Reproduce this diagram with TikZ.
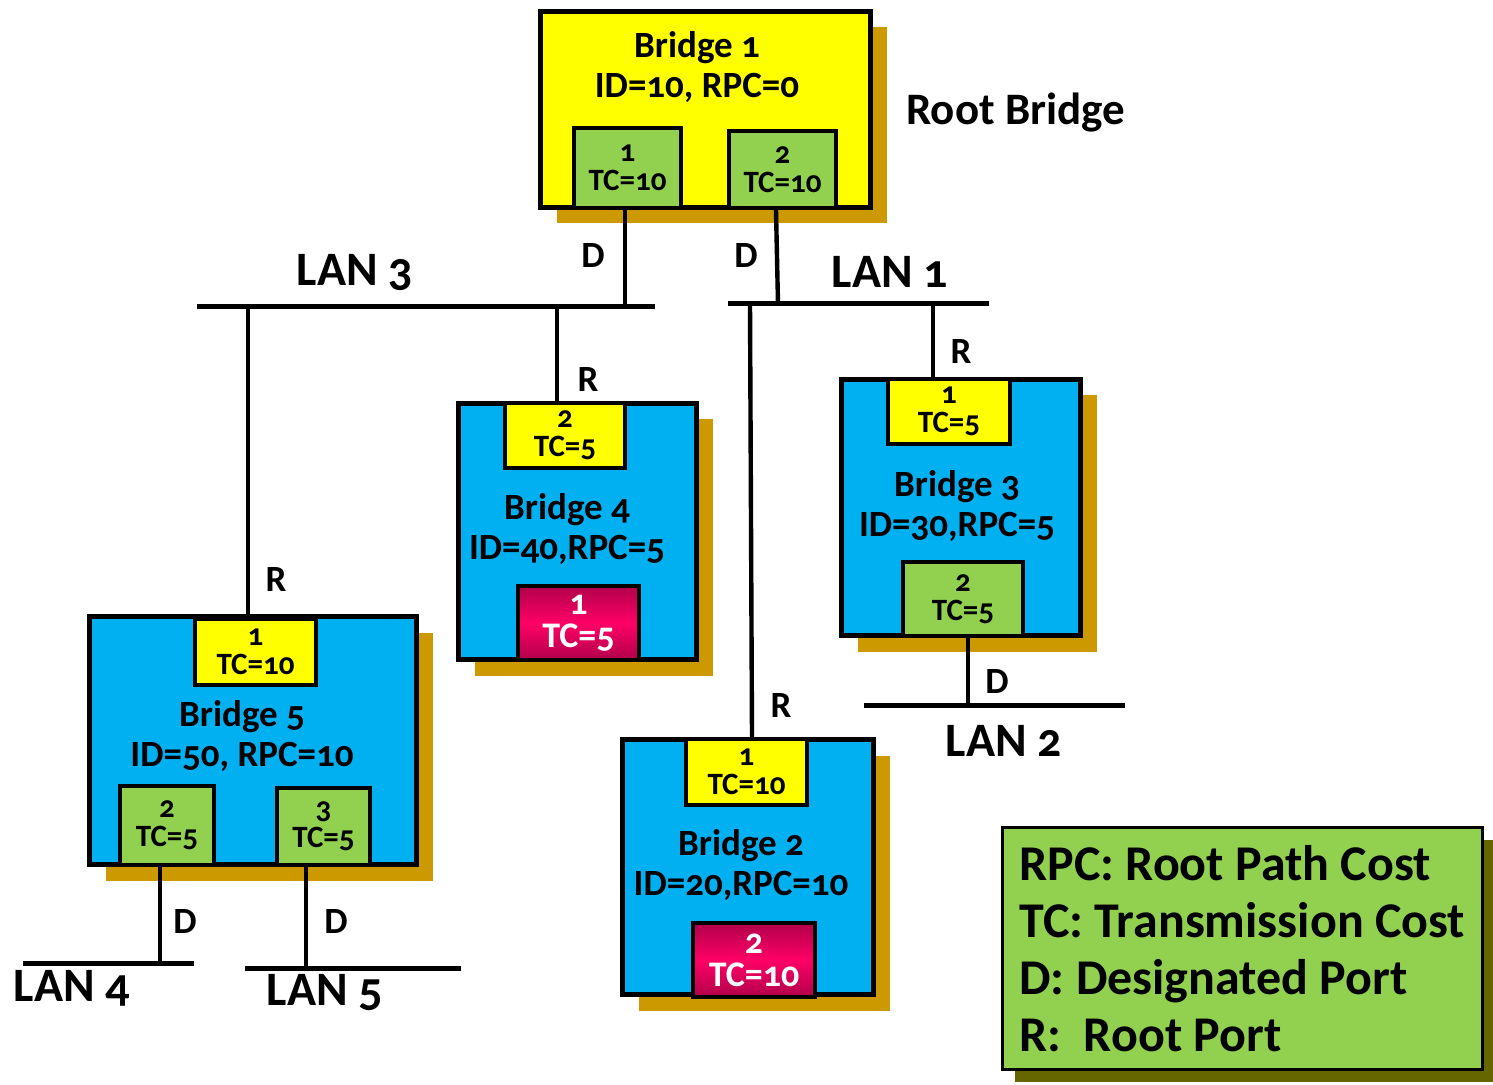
\documentclass[tikz,border=0pt]{standalone}
\usepackage{fontspec}
\setmainfont{Carlito}[Numbers=OldStyle]
\usetikzlibrary{shadows}
\definecolor{byel}{HTML}{FFFF00}
\definecolor{bgreen}{HTML}{92D050}
\definecolor{bblue}{HTML}{00B0F0}
\definecolor{bgold}{HTML}{CC9900}
\definecolor{bolive}{HTML}{666600}
\definecolor{crimD}{HTML}{B0004A}
\definecolor{crimL}{HTML}{FF0066}
\begin{document}
\begin{tikzpicture}[x=0.5pt,y=-0.5pt,
 bridgebox/.style={draw, line width=2.5pt, fill=bblue, rectangle, inner sep=0pt,
   general shadow={fill=bgold, shadow xshift=8pt, shadow yshift=-8pt}},
 portbox/.style={draw, line width=2.2pt, rectangle, inner sep=0pt, align=center,
   font=\bfseries\fontsize{15.5}{14.5}\selectfont},
 yport/.style={portbox, fill=byel},
 gport/.style={portbox, fill=bgreen},
 rport/.style={portbox, top color=crimD, bottom color=crimD, middle color=crimL,
   text=white, font=\bfseries\fontsize{18}{16.5}\selectfont},
 btext/.style={align=center, inner sep=0pt, font=\bfseries\fontsize{18.5}{20}\selectfont},
 lbl/.style={inner sep=0pt, font=\bfseries\fontsize{18.5}{18.5}\selectfont},
 lanlbl/.style={inner sep=0pt, font=\bfseries\fontsize{24}{24}\selectfont},
 wire/.style={line width=2.2pt},
 lan/.style={line width=2.5pt},
]
\useasboundingbox (0,0) rectangle (1493,1085);

% ---- Bridge 1 (root)
\node[bridgebox, fill=byel, minimum width=165pt, minimum height=98pt] (b1) at (705.5,109.5) {};
\node[btext] (b1t) at (697,67.5) {Bridge 1\\ID=10, RPC=0};
\node[gport, minimum width=53.5pt, minimum height=40pt] (b1p1) at (627.5,168) {1\\TC=10};
\node[gport, minimum width=53.5pt, minimum height=38.5pt] (b1p2) at (782.5,169.5) {2\\TC=10};
\node[inner sep=0pt, anchor=west, font=\bfseries\fontsize{22.5}{22.5}\selectfont] (rootlbl) at (906,113) {Root Bridge};

% ---- Bridge 4
\node[bridgebox, minimum width=119pt, minimum height=128pt] (b4) at (577.5,531.5) {};
\node[yport, minimum width=60pt, minimum height=32.5pt] (b4p2) at (565,435.5) {2\\TC=5};
\node[btext] (b4t) at (567,529.5) {Bridge 4\\ID=40,RPC=5};
\node[rport, minimum width=60.5pt, minimum height=37pt] (b4p1) at (578.5,623) {1\\TC=5};

% ---- Bridge 3
\node[bridgebox, minimum width=119.5pt, minimum height=128pt] (b3) at (961,507.5) {};
\node[yport, minimum width=61pt, minimum height=32.5pt] (b3p1) at (949,411.5) {1\\TC=5};
\node[btext] (b3t) at (957,506) {Bridge 3\\ID=30,RPC=5};
\node[gport, minimum width=60pt, minimum height=37pt] (b3p2) at (963,599) {2\\TC=5};

% ---- Bridge 5
\node[bridgebox, minimum width=163.5pt, minimum height=124pt] (b5) at (253,740.5) {};
\node[yport, minimum width=60.5pt, minimum height=33pt] (b5p1) at (255.5,652) {1\\TC=10};
\node[btext] (b5t) at (242,736.5) {Bridge 5\\ID=50, RPC=10};
\node[gport, minimum width=47pt, minimum height=39.5pt] (b5p2) at (167,825.5) {2\\TC=5};
\node[gport, minimum width=46.5pt, minimum height=38.5pt] (b5p3) at (323.5,826.5) {3\\TC=5};

% ---- Bridge 2
\node[bridgebox, minimum width=125.5pt, minimum height=127.5pt] (b2) at (748,867) {};
\node[yport, minimum width=60.5pt, minimum height=33pt] (b2p1) at (746.5,772) {1\\TC=10};
\node[btext] (b2t) at (741,865.5) {Bridge 2\\ID=20,RPC=10};
\node[rport, minimum width=61pt, minimum height=37pt] (b2p2) at (754,960) {2\\TC=10};

% ---- LAN segments
\coordinate (lan3w) at (197,307); \coordinate (lan3e) at (655,307);
\coordinate (lan1w) at (728,304); \coordinate (lan1e) at (989,304);
\coordinate (lan2w) at (864,705); \coordinate (lan2e) at (1125,705);
\coordinate (lan4w) at (23,963);  \coordinate (lan4e) at (194,963);
\coordinate (lan5w) at (245,968); \coordinate (lan5e) at (461,968);
\draw[lan] (lan3w) -- (lan3e);
\draw[lan] (lan1w) -- (lan1e);
\draw[lan] (lan2w) -- (lan2e);
\draw[lan] (lan4w) -- (lan4e);
\draw[lan] (lan5w) -- (lan5e);

% taps on LANs
\coordinate (t3a) at (248,307);
\coordinate (t3b) at (557,307);
\coordinate (t1a) at (750,304);
\coordinate (t1b) at (933,304);

% ---- connectors
\draw[wire] ([xshift=-1.25pt]b1p1.south) -- ([xshift=-1.25pt]b1p1.south |- lan3e);
\draw[wire] ([xshift=-3.25pt]b1p2.south) -- ([xshift=-2.25pt]b1p2.south |- lan1w);
\draw[wire] (t3a) -- (t3a |- b5.north);
\draw[wire] (t3b) -- (t3b |- b4.north);
\draw[wire] (t1a) -- ([xshift=1pt]t1a |- b2.north);
\draw[wire] (t1b) -- (t1b |- b3.north);
\draw[wire] ([xshift=2.5pt]b3p2.south) -- ([xshift=2.5pt]b3p2.south |- lan2w);
\draw[wire] ([xshift=-3.5pt]b5p2.south) -- ([xshift=-3.5pt]b5p2.south |- lan4e);
\draw[wire] ([xshift=-8.75pt]b5p3.south) -- ([xshift=-8.75pt]b5p3.south |- lan5w);

% ---- port role labels
\node[lbl] (d1) at (593,256) {D};
\node[lbl] (d2) at (746,256) {D};
\node[lbl] (r4) at (588,380) {R};
\node[lbl] (r5) at (276,580) {R};
\node[lbl] (r3) at (961,352) {R};
\node[lbl] (r2) at (781,706) {R};
\node[lbl] (d3) at (997,682) {D};
\node[lbl] (d5a) at (185,921) {D};
\node[lbl] (d5b) at (336,921) {D};

% ---- LAN labels
\node[lanlbl] (l3) at (355,272) {LAN 3};
\node[lanlbl] (l1) at (890,272) {LAN 1};
\node[lanlbl] (l2) at (1004,741) {LAN 2};
\node[lanlbl] (l4) at (72,988) {LAN 4};
\node[lanlbl] (l5) at (325,992) {LAN 5};

% ---- legend
\node[draw, line width=1.5pt, fill=bgreen, inner sep=0pt, minimum width=240pt, minimum height=121pt,
   general shadow={fill=bolive, shadow xshift=6pt, shadow yshift=-6pt}] (legend) at (1242.5,948.5) {};
\node[anchor=west, align=left, inner sep=0pt, font=\bfseries\fontsize{25}{28.5}\selectfont] (legtext) at (1019,949)
  {RPC: Root Path Cost\\TC: Transmission Cost\\D: Designated Port\\R:\ \ Root Port};
\end{tikzpicture}
\end{document}
